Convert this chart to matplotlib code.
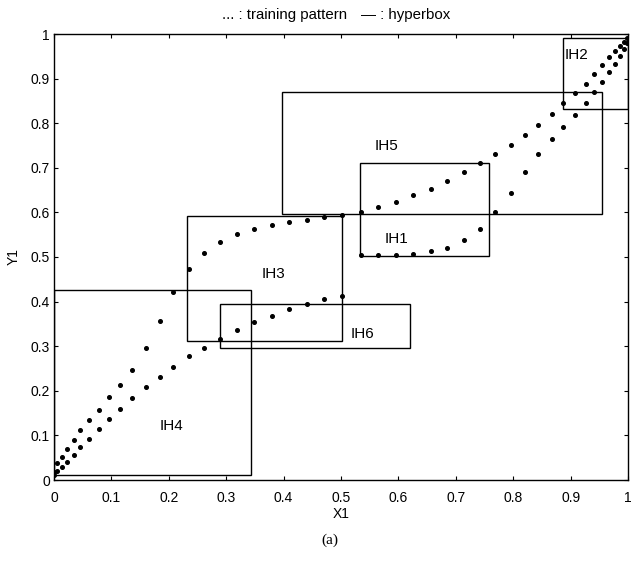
import numpy as np
import matplotlib.pyplot as plt
from matplotlib.patches import Rectangle

plt.rcParams['font.family'] = ['Liberation Sans', 'DejaVu Sans']

# training patterns (two curves sharing the same x positions)
pattern_x = [0.0, 0.006, 0.014, 0.022, 0.034, 0.046, 0.061, 0.078, 0.096, 0.115,
             0.136, 0.160, 0.184, 0.208, 0.235, 0.262, 0.290, 0.319, 0.348, 0.379,
             0.409, 0.440, 0.471, 0.502, 0.534, 0.564, 0.595, 0.625, 0.656, 0.685,
             0.714, 0.743, 0.769, 0.796, 0.821, 0.844, 0.867, 0.887, 0.907, 0.926,
             0.941, 0.955, 0.967, 0.977, 0.986, 0.993, 0.998]
upper_y = [0.018, 0.039, 0.052, 0.070, 0.090, 0.111, 0.135, 0.158, 0.185, 0.213,
           0.247, 0.295, 0.357, 0.421, 0.472, 0.508, 0.534, 0.552, 0.563, 0.572,
           0.578, 0.583, 0.590, 0.594, 0.601, 0.613, 0.624, 0.639, 0.653, 0.671,
           0.690, 0.710, 0.730, 0.752, 0.774, 0.797, 0.821, 0.845, 0.868, 0.889,
           0.911, 0.930, 0.948, 0.963, 0.973, 0.983, 0.990]
lower_y = [0.012, 0.020, 0.029, 0.040, 0.056, 0.073, 0.093, 0.114, 0.137, 0.159,
           0.183, 0.208, 0.231, 0.254, 0.277, 0.297, 0.317, 0.336, 0.354, 0.368,
           0.383, 0.395, 0.405, 0.413, 0.504, 0.504, 0.504, 0.507, 0.513, 0.521,
           0.537, 0.563, 0.601, 0.644, 0.690, 0.731, 0.765, 0.792, 0.819, 0.845,
           0.869, 0.892, 0.914, 0.933, 0.951, 0.966, 0.979]

# hyperboxes: name, xmin, xmax, ymin, ymax, label position
box_names = ['IH1', 'IH2', 'IH3', 'IH4', 'IH5', 'IH6']
box_xmin = [0.533, 0.886, 0.232, 0.0, 0.397, 0.290]
box_xmax = [0.757, 1.0, 0.502, 0.344, 0.955, 0.620]
box_ymin = [0.503, 0.831, 0.312, 0.011, 0.597, 0.295]
box_ymax = [0.710, 0.990, 0.593, 0.426, 0.869, 0.394]
label_x = [0.597, 0.911, 0.382, 0.205, 0.580, 0.537]
label_y = [0.540, 0.953, 0.463, 0.120, 0.750, 0.327]

ticks = [0, 0.1, 0.2, 0.3, 0.4, 0.5, 0.6, 0.7, 0.8, 0.9, 1]
tick_labels = ['0', '0.1', '0.2', '0.3', '0.4', '0.5', '0.6', '0.7', '0.8', '0.9', '1']

W, H = 632, 563
fig = plt.figure(figsize=(W / 100, H / 100), dpi=100)
ax = fig.add_axes([54 / W, 1 - 480 / H, 574 / W, 446 / H])

ax.plot(pattern_x, upper_y, 'o', color='black', markersize=2.6, linestyle='none')
ax.plot(pattern_x, lower_y, 'o', color='black', markersize=2.6, linestyle='none')

for i in range(len(box_names)):
    ax.add_patch(Rectangle((box_xmin[i], box_ymin[i]), box_xmax[i] - box_xmin[i],
                           box_ymax[i] - box_ymin[i], fill=False,
                           edgecolor='black', linewidth=1.0))
    ax.text(label_x[i], label_y[i], box_names[i], ha='center', va='center', fontsize=11)

ax.set_xlim(0, 1)
ax.set_ylim(0, 1)
ax.set_xticks(ticks)
ax.set_xticklabels(tick_labels)
ax.set_yticks(ticks)
ax.set_yticklabels(tick_labels)
ax.tick_params(direction='in', length=3, width=0.8, top=True, right=True,
               labelsize=10)
ax.tick_params(axis='x', pad=8)
ax.tick_params(axis='y', pad=3)
for s in ax.spines.values():
    s.set_linewidth(1.0)

ax.set_xlabel('X1', fontsize=10, labelpad=1)
ax.set_ylabel('Y1', fontsize=10, labelpad=7)

fig.text(222 / W, 1 - 15 / H, '... : training pattern', ha='left', va='center', fontsize=10.8)
fig.text(361 / W, 1 - 15 / H, '\u2014 : hyperbox', ha='left', va='center', fontsize=10.8)
fig.text(330 / W, 1 - 540 / H, '(a)', ha='center', va='center', fontsize=11,
         family='Liberation Serif')

fig.savefig('out.png', dpi=100)
